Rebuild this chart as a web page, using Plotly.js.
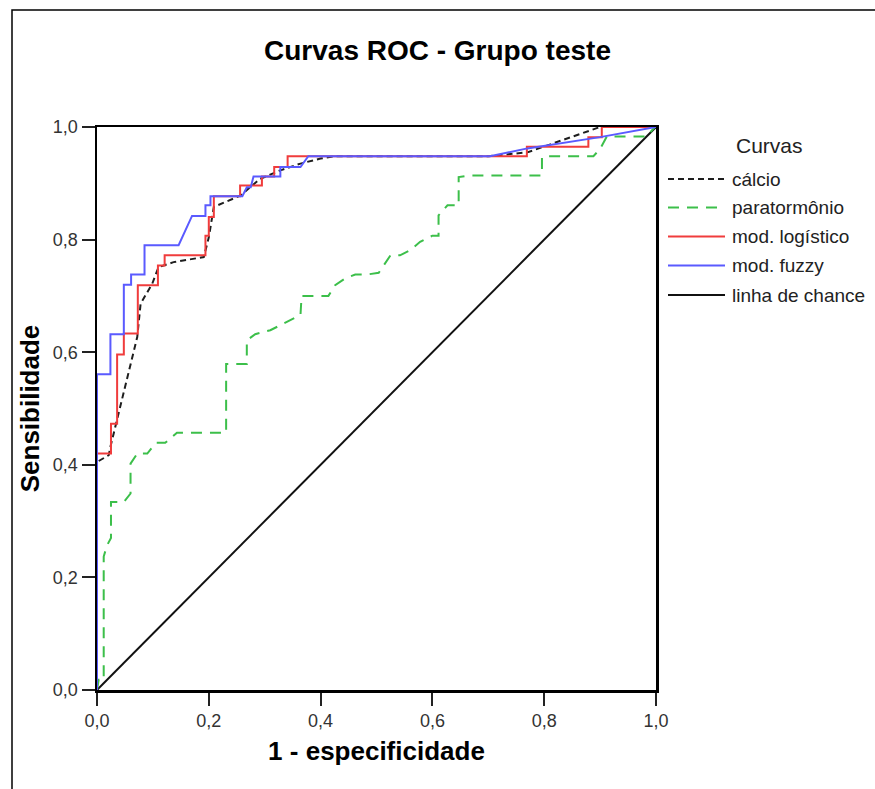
<!DOCTYPE html>
<html>
<head>
<meta charset="utf-8">
<script src="https://cdn.plot.ly/plotly-3.0.1.min.js"></script>
<style>html,body{margin:0;padding:0;background:#fff;}#chart{width:875px;height:789px;}</style>
</head>
<body>
<div id="chart"></div>
<script>
// ---- data ----
const chanceX = [0, 1];
const chanceY = [0, 1];

const calcioX = [0, 0, 0.021, 0.024, 0.072, 0.078, 0.099, 0.11, 0.137, 0.191, 0.2, 0.209, 0.256, 0.292, 0.328, 0.364, 0.4, 0.423, 0.7, 0.77, 0.9, 1];
const calcioY = [0, 0.405, 0.417, 0.432, 0.627, 0.686, 0.722, 0.751, 0.76, 0.769, 0.804, 0.858, 0.878, 0.908, 0.923, 0.935, 0.944, 0.948, 0.948, 0.955, 1.0, 1];

const pthX = [0, 0.003, 0.012, 0.012, 0.018, 0.025, 0.025, 0.048, 0.06, 0.06, 0.072, 0.09, 0.105, 0.122, 0.143, 0.231, 0.231, 0.268, 0.268, 0.283, 0.31, 0.364, 0.366, 0.414, 0.426, 0.444, 0.462, 0.483, 0.504, 0.525, 0.542, 0.56, 0.578, 0.6, 0.611, 0.611, 0.627, 0.647, 0.647, 0.667, 0.796, 0.796, 0.8, 0.888, 0.9, 0.912, 0.983, 0.998, 1];
const pthY = [0, 0.018, 0.018, 0.237, 0.257, 0.27, 0.334, 0.334, 0.349, 0.402, 0.42, 0.42, 0.439, 0.439, 0.457, 0.457, 0.579, 0.579, 0.621, 0.632, 0.639, 0.666, 0.70, 0.70, 0.719, 0.731, 0.738, 0.738, 0.741, 0.772, 0.772, 0.781, 0.796, 0.807, 0.807, 0.843, 0.861, 0.861, 0.911, 0.914, 0.914, 0.946, 0.948, 0.948, 0.961, 0.983, 0.983, 1.0, 1];

const logX = [0, 0, 0.025, 0.025, 0.036, 0.036, 0.048, 0.048, 0.073, 0.073, 0.109, 0.109, 0.121, 0.121, 0.194, 0.194, 0.2, 0.2, 0.209, 0.209, 0.256, 0.256, 0.295, 0.295, 0.317, 0.317, 0.341, 0.341, 0.769, 0.769, 0.879, 0.879, 0.903, 0.903, 1];
const logY = [0, 0.42, 0.42, 0.473, 0.473, 0.596, 0.596, 0.633, 0.633, 0.719, 0.719, 0.754, 0.754, 0.772, 0.772, 0.807, 0.807, 0.84, 0.84, 0.877, 0.877, 0.896, 0.896, 0.912, 0.912, 0.929, 0.929, 0.948, 0.948, 0.965, 0.965, 0.982, 0.982, 1.0, 1];

const fuzzyX = [0, 0, 0.024, 0.024, 0.048, 0.048, 0.061, 0.061, 0.085, 0.085, 0.146, 0.17, 0.194, 0.194, 0.203, 0.203, 0.26, 0.268, 0.275, 0.28, 0.328, 0.328, 0.364, 0.378, 0.703, 0.77, 0.9, 1];
const fuzzyY = [0, 0.561, 0.561, 0.632, 0.632, 0.72, 0.72, 0.738, 0.738, 0.79, 0.79, 0.842, 0.842, 0.861, 0.861, 0.877, 0.877, 0.893, 0.893, 0.912, 0.912, 0.929, 0.929, 0.948, 0.948, 0.962, 0.982, 1];

const tickVals = [0, 0.2, 0.4, 0.6, 0.8, 1.0];
const tickText = ['0,0', '0,2', '0,4', '0,6', '0,8', '1,0'];

const chartTitle = 'Curvas ROC - Grupo teste';
const xTitle = '1 - especificidade';
const yTitle = 'Sensibilidade';
const legendTitle = 'Curvas';
const seriesNames = ['cálcio', 'paratormônio', 'mod. logístico', 'mod. fuzzy', 'linha de chance'];

// ---- styles ----
const FONT = 'Liberation Sans, Arial, sans-serif';
const styles = [
  {color: '#1e1e1e', dash: '6px,4px', width: 2},
  {color: '#3cbf4a', dash: '11px,8px', width: 2},
  {color: '#f03c3c', dash: 'solid', width: 2},
  {color: '#5a5aff', dash: 'solid', width: 2},
  {color: '#111111', dash: 'solid', width: 2}
];
const seriesX = [calcioX, pthX, logX, fuzzyX, chanceX];
const seriesY = [calcioY, pthY, logY, fuzzyY, chanceY];

// draw order: chance, pth, calcio, log, fuzzy
const order = [4, 1, 0, 2, 3];
const traces = order.map(i => ({
  type: 'scatter', mode: 'lines', name: seriesNames[i],
  x: seriesX[i], y: seriesY[i], cliponaxis: false, showlegend: false,
  line: {color: styles[i].color, dash: styles[i].dash, width: styles[i].width}
}));

// plot-area geometry in px
const L = 97, R = 656, T = 127, B = 690;
const W = 875, H = 789;
const px = x => (x - L) / (R - L);
const py = y => (B - y) / (B - T);

const shapes = [
  // outer frame
  {type: 'rect', xref: 'paper', yref: 'paper', x0: px(12), x1: px(900), y0: py(820), y1: py(10),
   line: {color: '#000', width: 1.5}, fillcolor: 'rgba(0,0,0,0)', layer: 'below'}
];
const annotations = [
  {xref: 'paper', yref: 'paper', x: px(769), y: py(145), text: legendTitle, showarrow: false,
   xanchor: 'center', yanchor: 'middle', font: {family: FONT, size: 21, color: '#222'}}
];
const legendRows = [179, 207.5, 236.5, 265.5, 295];
seriesNames.forEach((n, i) => {
  shapes.push({type: 'line', xref: 'paper', yref: 'paper', x0: px(668), x1: px(725), y0: py(legendRows[i]), y1: py(legendRows[i]),
    line: {color: styles[i].color, dash: styles[i].dash, width: styles[i].width}});
  annotations.push({xref: 'paper', yref: 'paper', x: px(730), y: py(legendRows[i]), text: n, showarrow: false,
    xanchor: 'left', yanchor: 'middle', font: {family: FONT, size: 19, color: '#222'}});
});

const axisCommon = {
  range: [0, 1], tickvals: tickVals, ticktext: tickText,
  showgrid: false, zeroline: false, showline: true, mirror: true,
  linecolor: '#000', linewidth: 2.5, ticks: 'outside', ticklen: 13, tickwidth: 2, tickcolor: '#222',
  tickfont: {family: FONT, size: 18, color: '#333'}, fixedrange: true
};

const layout = {
  width: W, height: H,
  margin: {l: L, r: W - R, t: T, b: H - B, pad: 0},
  paper_bgcolor: '#fff', plot_bgcolor: '#fff',
  showlegend: false,
  title: {text: chartTitle, xref: 'container', x: 0.5, xanchor: 'center', yref: 'container', y: 1 - 50 / H, yanchor: 'middle',
    font: {family: FONT, size: 28, color: '#000', weight: 'bold'}},
  xaxis: Object.assign({}, axisCommon, {title: {text: xTitle, standoff: 12, font: {family: FONT, size: 26, color: '#000', weight: 'bold'}}}),
  yaxis: Object.assign({}, axisCommon, {title: {text: yTitle, standoff: 6, font: {family: FONT, size: 26, color: '#000', weight: 'bold'}}}),
  shapes: shapes, annotations: annotations
};

Plotly.newPlot('chart', traces, layout, {displayModeBar: false, staticPlot: true});
</script>
</body>
</html>
